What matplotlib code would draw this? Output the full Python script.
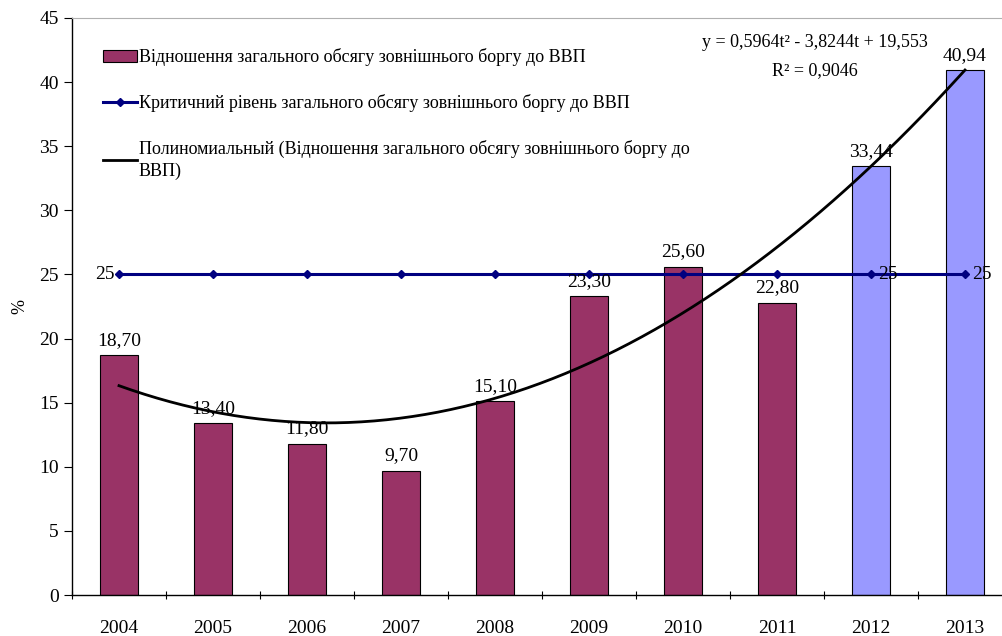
import matplotlib.pyplot as plt
import numpy as np

plt.rcParams['font.family'] = ['Liberation Serif', 'DejaVu Serif']

# data
years = ['2004', '2005', '2006', '2007', '2008', '2009', '2010', '2011', '2012', '2013']
debt_ratio = [18.70, 13.40, 11.80, 9.70, 15.10, 23.30, 25.60, 22.80, 33.44, 40.94]
critical = [25, 25, 25, 25, 25, 25, 25, 25, 25, 25]
forecast_from = 8  # 2012 and 2013 are forecast years

x = np.arange(len(years))
colors = ['#993366' if i < forecast_from else '#9999FF' for i in x]

fig = plt.figure(figsize=(10.02, 6.36), dpi=100)
ax = fig.add_axes([72 / 1002, 41 / 636, 940 / 1002, 577 / 636])

bars = ax.bar(x, debt_ratio, width=0.4, color=colors, edgecolor='black',
              linewidth=0.8, zorder=2,
              label='Відношення загального обсягу зовнішнього боргу до ВВП')

crit_line, = ax.plot(x, critical, color='#000080', linewidth=2.2, marker='D',
                     markersize=4.5, zorder=3,
                     label='Критичний рівень загального обсягу зовнішнього боргу до ВВП')

# polynomial trend (2nd order) fitted on t = 1..10
t = x + 1
coef = np.polyfit(t, debt_ratio, 2)
ts = np.linspace(1, len(years), 200)
trend, = ax.plot(ts - 1, np.polyval(coef, ts), color='black', linewidth=2, zorder=4,
                 label='Полиномиальный (Відношення загального обсягу зовнішнього боргу до\nВВП)')

# value labels
for xi, v in zip(x, debt_ratio):
    ax.text(xi, v + 0.5, f'{v:.2f}'.replace('.', ','), ha='center', va='bottom',
            fontsize=14, zorder=5)

ax.text(x[0] - 0.05, critical[0], '25', ha='right', va='center', fontsize=14)
for i in (8, 9):
    ax.text(x[i] + 0.08, critical[i], '25', ha='left', va='center', fontsize=14)

ax.text(7.4, 43.1, 'y = 0,5964t² - 3,8244t + 19,553', ha='center', va='center', fontsize=13)
ax.text(7.4, 40.9, 'R² = 0,9046', ha='center', va='center', fontsize=13)

ax.set_xlim(-0.5, 9.5)
ax.set_ylim(0, 45)
ax.set_yticks(range(0, 46, 5))
ax.set_xticks(x)
ax.set_xticklabels(years)
ax.set_xticks(np.arange(-0.5, 10, 1), minor=True)
ax.tick_params(axis='x', which='major', length=0, pad=18, labelsize=14)
ax.tick_params(axis='x', which='minor', length=6, direction='inout', width=0.8)
ax.tick_params(axis='y', length=6, direction='out', width=0.8, labelsize=14)
ax.set_ylabel('%', fontsize=13, labelpad=8)

ax.spines['right'].set_visible(False)
ax.spines['top'].set_color('#b0b0b0')
ax.spines['left'].set_linewidth(1)
ax.spines['bottom'].set_linewidth(1)

leg = ax.legend(handles=[bars, crit_line, trend], loc='upper left',
                bbox_to_anchor=(0.025, 0.96), frameon=False,
                fontsize=13, handlelength=1.9, handletextpad=0.1, labelspacing=1.55,
                borderaxespad=0)
for txt in leg.get_texts():
    txt.set_linespacing(1.35)

fig.savefig('out.png', dpi=100)
